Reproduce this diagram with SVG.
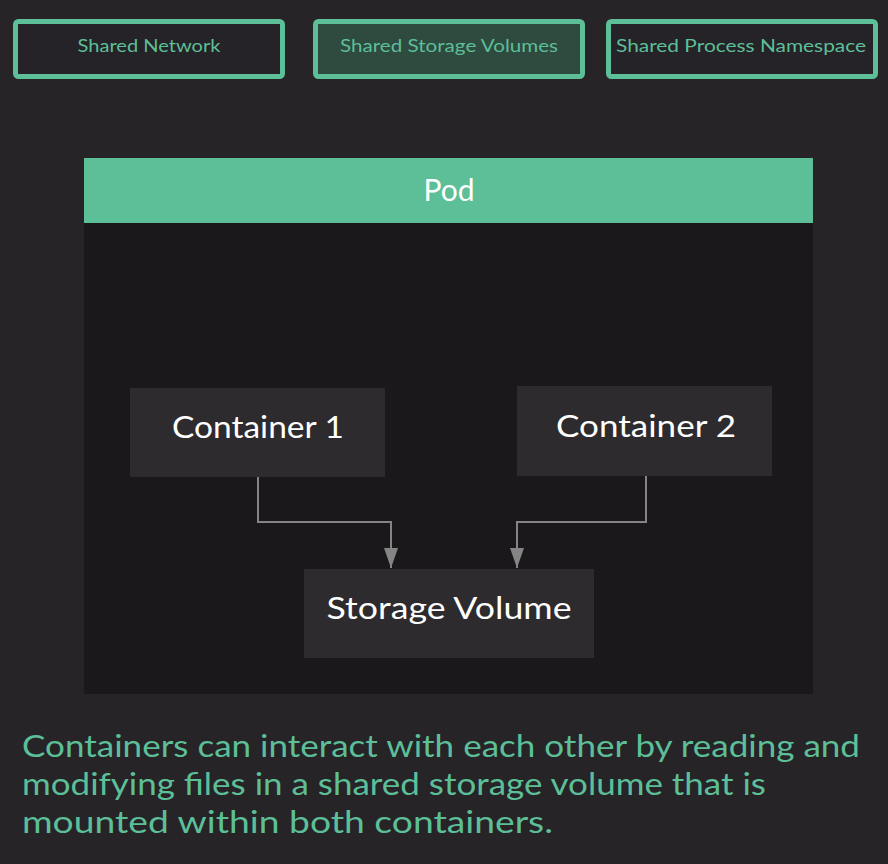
<svg xmlns="http://www.w3.org/2000/svg" width="888" height="864" viewBox="0 0 888 864">
<defs>
<style>
.tab{fill:#252327;stroke:#5cbf98;stroke-width:5}
.tabsel{fill:#2f4a3f;stroke:#5cbf98;stroke-width:5}
.tabt{font-family:Lato,"Open Sans",sans-serif;font-size:18px;fill:#5cbf98;text-anchor:middle}
.box{fill:#2d2b2e}
.boxt{font-family:Lato,"Open Sans",sans-serif;font-size:30px;fill:#ffffff;text-anchor:middle}
.conn{fill:none;stroke:#858585;stroke-width:2}
.cap{font-family:Lato,"Open Sans",sans-serif;font-size:30px;fill:#5cbf98}
</style>
<marker id="arr" viewBox="0 0 20 14" refX="20" refY="7" markerWidth="20" markerHeight="14" markerUnits="userSpaceOnUse" orient="auto">
<path d="M0,0 L20,7 L0,14 Z" fill="#858585"/>
</marker>
</defs>
<rect width="888" height="864" fill="#262427"/>
<g id="tab-network">
<rect class="tab" x="15.5" y="21.5" width="267" height="55" rx="3"/>
<text class="tabt" x="149" y="52" textLength="143" lengthAdjust="spacingAndGlyphs">Shared Network</text>
</g>
<g id="tab-storage">
<rect class="tabsel" x="315.5" y="21.5" width="267" height="55" rx="3"/>
<text class="tabt" x="449" y="52" textLength="218" lengthAdjust="spacingAndGlyphs">Shared Storage Volumes</text>
</g>
<g id="tab-process">
<rect class="tab" x="608.5" y="21.5" width="267" height="55" rx="3"/>
<text class="tabt" x="741" y="52" textLength="250" lengthAdjust="spacingAndGlyphs">Shared Process Namespace</text>
</g>
<g id="pod">
<rect x="84" y="223" width="729" height="471" fill="#1a181b"/>
<rect x="84" y="158" width="729" height="65" fill="#5cbf98"/>
<text class="boxt" x="449" y="201" font-size="30">Pod</text>
</g>
<g id="container1">
<rect class="box" x="130" y="388" width="255" height="89"/>
<text class="boxt" x="258" y="438" textLength="172" lengthAdjust="spacingAndGlyphs">Container 1</text>
</g>
<g id="container2">
<rect class="box" x="517" y="386" width="255" height="90"/>
<text class="boxt" x="646" y="437" textLength="180" lengthAdjust="spacingAndGlyphs">Container 2</text>
</g>
<g id="storage">
<rect class="box" x="304" y="569" width="290" height="89"/>
<text class="boxt" x="449" y="619" textLength="245" lengthAdjust="spacingAndGlyphs">Storage Volume</text>
</g>
<g id="connectors">
<path class="conn" d="M258,477 V522 H391 V568" marker-end="url(#arr)"/>
<path class="conn" d="M646,476 V522 H517 V568" marker-end="url(#arr)"/>
</g>
<g id="caption">
<text class="cap" x="22" y="757" textLength="838" lengthAdjust="spacingAndGlyphs">Containers can interact with each other by reading and</text>
<text class="cap" x="22" y="795" textLength="744" lengthAdjust="spacingAndGlyphs">modifying files in a shared storage volume that is</text>
<text class="cap" x="22" y="833" textLength="531" lengthAdjust="spacingAndGlyphs">mounted within both containers.</text>
</g>
</svg>
